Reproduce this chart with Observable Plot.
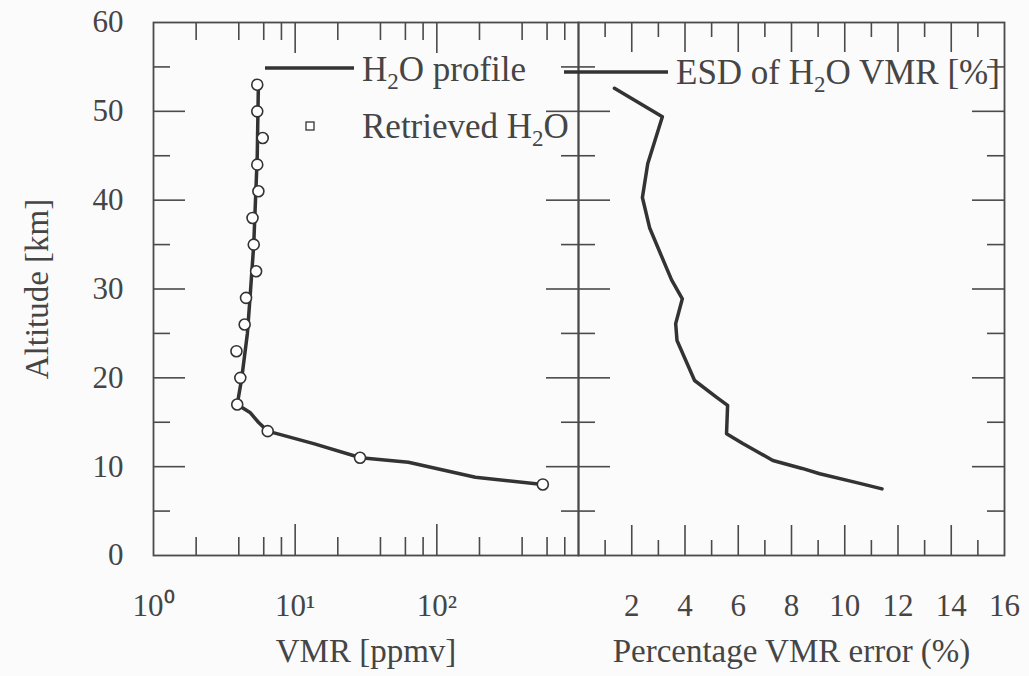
<!DOCTYPE html>
<html><head><meta charset="utf-8">
<script src="https://cdn.jsdelivr.net/npm/d3@7"></script>
<script src="https://cdn.jsdelivr.net/npm/@observablehq/plot@0.6"></script>
<style>
html,body{margin:0;padding:0;background:#fbfbfb;}
#wrap{position:relative;width:1029px;height:676px;overflow:hidden;}
#wrap svg{position:absolute;left:0;top:0;}
</style></head><body><div id="wrap"></div>
<script>
// ---------- data ----------
const altitudeDomain = [0, 60];
const altitudeTicks = [0, 10, 20, 30, 40, 50, 60];
const altitudeMinorTicks = [5, 15, 25, 35, 45, 55];

const vmrDomain = [1, 1000];
const vmrLabelTicks = [1, 10, 100];
const vmrMajorTicks = [10, 100];
const vmrMinorTicks = [2, 4, 6, 8, 20, 40, 60, 80, 200, 400, 600, 800];

const errDomain = [0, 16];
const errLabelTicks = [2, 4, 6, 8, 10, 12, 14, 16];
const errMajorTicks = [2, 4, 6, 8, 10, 12, 14];
const errMinorTicks = [1, 3, 5, 7, 9, 11, 13, 15];

// H2O profile (line)
const profileAlt = [53, 45, 35, 29, 25, 20, 17, 16.1, 15, 14, 12.6, 11, 10.5, 8.8, 8];
const profileVmr = [5.5, 5.4, 5.1, 4.8, 4.6, 4.2, 3.9, 4.8, 5.5, 6.4, 13.5, 29, 63, 187, 560];

// Retrieved H2O (circles)
const retrievedAlt = [53, 50, 47, 44, 41, 38, 35, 32, 29, 26, 23, 20, 17, 14, 11, 8];
const retrievedVmr = [5.4, 5.4, 5.9, 5.4, 5.5, 5.0, 5.1, 5.3, 4.5, 4.4, 3.85, 4.1, 3.9, 6.4, 28.7, 560];

// ESD of H2O VMR [%]
const esdAlt = [52.6, 49.4, 44.1, 40.3, 36.9, 32.4, 31, 28.9, 26.1, 24.2, 19.7, 17.8, 16.9, 13.7, 12.6, 10.7, 9.8, 9.2, 8.2, 7.5];
const esdErr = [1.35, 3.15, 2.6, 2.4, 2.67, 3.3, 3.5, 3.9, 3.65, 3.7, 4.36, 5.19, 5.6, 5.56, 6.17, 7.3, 8.4, 9.06, 10.45, 11.4];

const xTitleLeft = "VMR [ppmv]";
const xTitleRight = "Percentage VMR error (%)";
const yTitle = "Altitude [km]";

// ---------- layout / style ----------
const W = 1029, H = 676;
const TOP = 22, BOTTOM = 555, LEFT = 153, DIV = 578, RIGHT = 1004;
const innerH = BOTTOM - TOP;
const innerWL = DIV - LEFT, innerWR = RIGHT - DIV;
const FONT = "Liberation Serif, Times New Roman, serif";
const INK = "#454545", FRAME = "#4a4a4a", LINE = "#333";
const sup = {0: "\u2070", 1: "\u00B9", 2: "\u00B2", 3: "\u00B3"};

const profile = profileAlt.map((a, i) => ({alt: a, vmr: profileVmr[i]}));
const retrieved = retrievedAlt.map((a, i) => ({alt: a, vmr: retrievedVmr[i]}));
const esd = esdAlt.map((a, i) => ({alt: a, err: esdErr[i]}));

function tickSet(xMajor, xMinor, innerW, xMaj, xMin, yMaj, yMin) {
  const s = {stroke: FRAME, strokeWidth: 1.6};
  return [
    Plot.tickX(xMajor, {x: d => d, insetTop: innerH - xMaj, ...s}),
    Plot.tickX(xMinor, {x: d => d, insetTop: innerH - xMin, ...s}),
    Plot.tickX(xMajor, {x: d => d, insetBottom: innerH - xMaj, ...s}),
    Plot.tickX(xMinor, {x: d => d, insetBottom: innerH - xMin, ...s}),
    Plot.tickY(altitudeTicks.slice(1, -1), {y: d => d, insetRight: innerW - yMaj, ...s}),
    Plot.tickY(altitudeMinorTicks, {y: d => d, insetRight: innerW - yMin, ...s}),
    Plot.tickY(altitudeTicks.slice(1, -1), {y: d => d, insetLeft: innerW - yMaj, ...s}),
    Plot.tickY(altitudeMinorTicks, {y: d => d, insetLeft: innerW - yMin, ...s})
  ];
}

function h2oText(g, x, y, before, after) {
  const t = g.append("text").attr("x", x).attr("y", y).attr("text-anchor", "start")
    .attr("font-size", 35).attr("font-family", FONT).attr("fill", INK);
  t.append("tspan").text(before + "H");
  t.append("tspan").attr("font-size", 23).attr("dy", 8).text("2");
  t.append("tspan").attr("dy", -8).text("O" + after);
}

function legendLeft() {
  const g = d3.create("svg:g");
  g.append("line").attr("x1", 265).attr("x2", 354).attr("y1", 68).attr("y2", 68)
    .attr("stroke", LINE).attr("stroke-width", 3.5);
  h2oText(g, 362, 81, "", " profile");
  g.append("rect").attr("x", 306).attr("y", 122).attr("width", 8).attr("height", 8)
    .attr("fill", "white").attr("stroke", LINE).attr("stroke-width", 1.3);
  h2oText(g, 362, 138, "Retrieved ", "");
  return g.node();
}
function legendRight() {
  const g = d3.create("svg:g");
  g.append("line").attr("x1", 564).attr("x2", 668).attr("y1", 72).attr("y2", 72)
    .attr("stroke", LINE).attr("stroke-width", 3.5);
  h2oText(g, 676, 84, "ESD of ", " VMR [%]");
  return g.node();
}

const common = {
  width: W, height: H, marginTop: TOP, marginBottom: H - BOTTOM,
  style: `background: transparent; font-family: ${FONT}; color: ${INK}; overflow: visible;`
};
const txt = {fontFamily: FONT, fill: INK};

const left = Plot.plot({
  ...common,
  marginLeft: LEFT, marginRight: W - DIV,
  x: {type: "log", domain: vmrDomain},
  y: {domain: altitudeDomain},
  marks: [
    Plot.frame({stroke: FRAME, strokeWidth: 1.8}),
    ...tickSet(vmrMajorTicks, vmrMinorTicks, innerWL, 31, 18, 32, 17),
    Plot.axisX(vmrLabelTicks, {anchor: "bottom", tickSize: 0, tickPadding: 38, fontSize: 31, ...txt,
      tickFormat: d => "10" + sup[Math.round(Math.log10(d))], label: null}),
    Plot.axisY(altitudeTicks, {anchor: "left", tickSize: 0, tickPadding: 30, fontSize: 31, ...txt, label: null}),
    Plot.text([xTitleLeft], {text: d => d, frameAnchor: "bottom", dy: 106, lineAnchor: "bottom", fontSize: 33, ...txt}),
    Plot.text([yTitle], {text: d => d, frameAnchor: "left", textAnchor: "middle", dx: -116, rotate: -90, fontSize: 33, ...txt}),
    Plot.line(profile, {x: "vmr", y: "alt", stroke: LINE, strokeWidth: 3.5}),
    Plot.dot(retrieved, {x: "vmr", y: "alt", r: 5.5, fill: "white", stroke: LINE, strokeWidth: 1.6}),
    legendLeft
  ]
});

const right = Plot.plot({
  ...common,
  marginLeft: DIV, marginRight: W - RIGHT,
  x: {domain: errDomain},
  y: {domain: altitudeDomain, axis: null},
  marks: [
    Plot.frame({stroke: FRAME, strokeWidth: 1.8}),
    ...tickSet(errMajorTicks, errMinorTicks, innerWR, 30, 15, 32, 17),
    Plot.axisX(errLabelTicks, {anchor: "bottom", tickSize: 0, tickPadding: 38, fontSize: 31, ...txt, label: null}),
    Plot.text([xTitleRight], {text: d => d, frameAnchor: "bottom", dy: 106, lineAnchor: "bottom", fontSize: 33, ...txt}),
    Plot.line(esd, {x: "err", y: "alt", stroke: LINE, strokeWidth: 3.5}),
    legendRight
  ]
});

const wrap = document.getElementById("wrap");
wrap.appendChild(left);
wrap.appendChild(right);
</script></body></html>
